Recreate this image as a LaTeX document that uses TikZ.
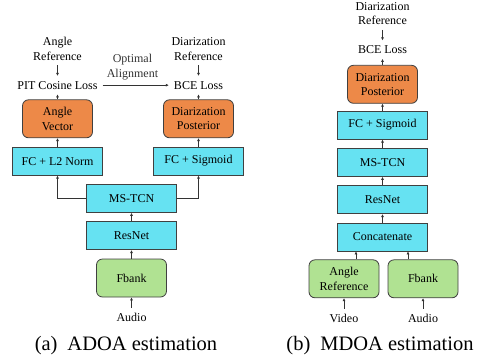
\documentclass[tikz,border=0pt]{standalone}
\usepackage{fontspec}
\setmainfont{Liberation Serif}
\usepackage{tikz}
\usetikzlibrary{calc, positioning, arrows.meta}
\definecolor{vecorange}{RGB}{237,137,72}
\definecolor{layercyan}{RGB}{102,226,242}
\definecolor{inputgreen}{RGB}{176,226,146}

\begin{document}
\begin{tikzpicture}
              [x=1pt, y=-1pt, node distance=8.5pt,
               font=\fontsize{12}{14.4}\selectfont,
               layer/.style={draw=black!75, line width=0.8pt, fill=layercyan,
                 minimum width=90pt, minimum height=28pt, inner sep=2pt},
               feat/.style={draw=black!75, line width=0.8pt, rounded corners=6pt,
                 minimum width=70pt, minimum height=38pt, align=center, inner sep=2pt},
               txt/.style={align=center, inner sep=5pt},
               capt/.style={font=\fontsize{20.5}{24}\selectfont, anchor=base},
               arr/.style={-{Latex[length=3pt,width=3pt]}, line width=0.6pt, black!80}]
              \useasboundingbox (0,0) rectangle (481,362);

              % nodes (a) %
              \node[feat, fill=inputgreen] (fbankA) at (131.5,278) {Fbank};
              \node[layer, above=of fbankA] (resnetA) {ResNet};
              \node[layer, above=of resnetA] (mstcnA) {MS-TCN};
              \node[layer, above=of mstcnA, xshift=-74pt] (fcA) {FC + L2 Norm};
              \node[layer, above=of mstcnA, xshift=67pt] (fcD) {FC + Sigmoid};
              \node[feat, fill=vecorange, above=of fcA] (vecA) {Angle\\Vector};
              \node[feat, fill=vecorange, above=of fcD] (postA) {Diarization\\Posterior};
              \node[txt, above=5pt of vecA] (pitA) {PIT Cosine Loss};
              \node[txt, above=5pt of postA] (bceA) {BCE Loss};
              \node[txt, above=10.5pt of pitA] (refA) {Angle\\Reference};
              \node[txt, above=10.5pt of bceA] (drefA) {Diarization\\Reference};
              \node[txt, below=10.7pt of fbankA] (audioA) {Audio};
              \node[capt] (capA) at (126,350) {(a)\hspace{10pt}ADOA estimation};

              % edges (a) %
              \draw[arr] (audioA) -- (fbankA);
              \draw[arr] (fbankA) -- (resnetA);
              \draw[arr] (resnetA) -- (mstcnA);
              \draw[arr] (mstcnA.west) -| (fcA.south);
              \draw[arr] (mstcnA.east) -| (fcD.south);
              \draw[arr] (fcA) -- (vecA);
              \draw[arr] (fcD) -- (postA);
              \draw[arr] (vecA) -- (pitA);
              \draw[arr] (postA) -- (bceA);
              \draw[arr] (refA) -- (pitA);
              \draw[arr] (drefA) -- (bceA);
              \draw[arr] (pitA) -- node[txt, above, pos=0.45] (alignA) {Optimal\\Alignment} (bceA);

              % nodes (b) %
              \node[layer] (concatB) at (382.5,237) {Concatenate};
              \node[feat, fill=inputgreen, below=8pt of concatB, xshift=-38.5pt] (angrefB) {Angle\\Reference};
              \node[feat, fill=inputgreen, below=8pt of concatB, xshift=40.5pt] (fbankB) {Fbank};
              \node[layer, above=of concatB] (resnetB) {ResNet};
              \node[layer, above=of resnetB] (mstcnB) {MS-TCN};
              \node[layer, above=of mstcnB] (fcB) {FC + Sigmoid};
              \node[feat, fill=vecorange, above=7pt of fcB] (postB) {Diarization\\Posterior};
              \node[txt, above=6pt of postB] (bceB) {BCE Loss};
              \node[txt, above=10.5pt of bceB] (drefB) {Diarization\\Reference};
              \node[txt, below=10.7pt of angrefB] (videoB) {Video};
              \node[txt, below=10.7pt of fbankB] (audioB) {Audio};
              \node[capt] (capB) at (380,350) {(b)\hspace{10pt}MDOA estimation};

              % edges (b) %
              \draw[arr] (videoB) -- (angrefB);
              \draw[arr] (audioB) -- (fbankB);
              \draw[arr] ([xshift=12pt]angrefB.north) -- ([xshift=12pt]angrefB.north |- concatB.south);
              \draw[arr] ([xshift=-15pt]fbankB.north) -- ([xshift=-15pt]fbankB.north |- concatB.south);
              \draw[arr] (concatB) -- (resnetB);
              \draw[arr] (resnetB) -- (mstcnB);
              \draw[arr] (mstcnB) -- (fcB);
              \draw[arr] (fcB) -- (postB);
              \draw[arr] (postB) -- (bceB);
              \draw[arr] (drefB) -- (bceB);
            \end{tikzpicture}
\end{document}
